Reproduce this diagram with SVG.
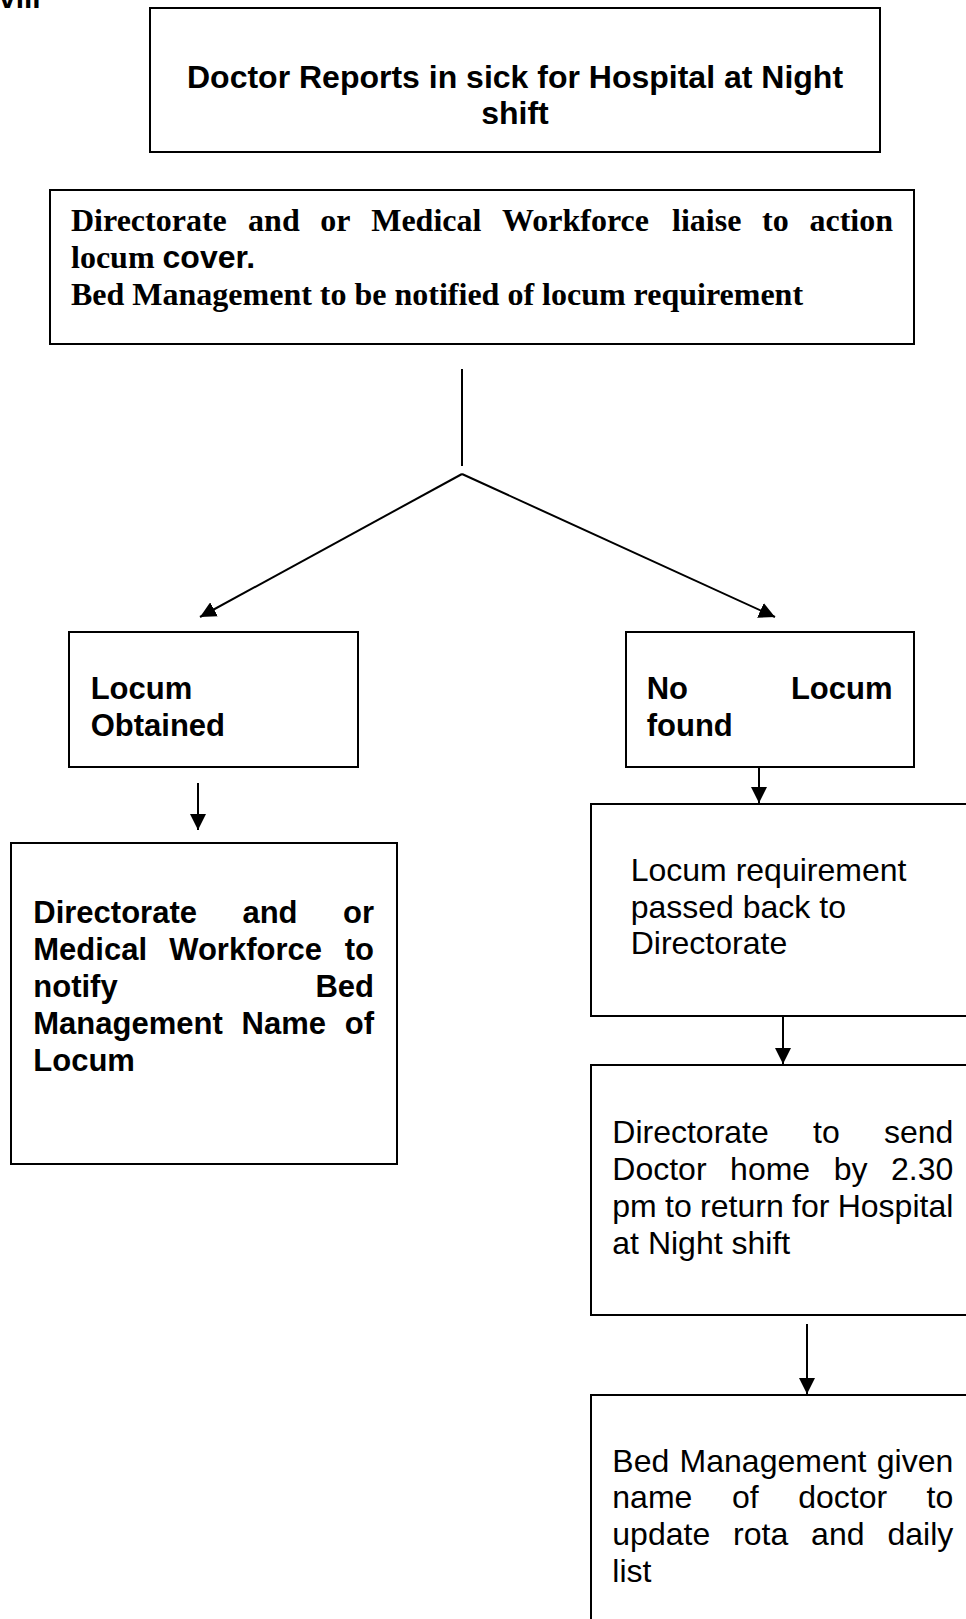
<svg xmlns="http://www.w3.org/2000/svg" width="966" height="1619" viewBox="0 0 966 1619">
<defs>
<style>
.box{fill:#fff;stroke:#000;stroke-width:2}
.ab{font-family:"Liberation Sans",Arial,sans-serif;font-weight:bold;font-size:31px;fill:#000}
.ar{font-family:"Liberation Sans",Arial,sans-serif;font-size:32px;fill:#000}
.tb{font-family:"Liberation Serif","Times New Roman",serif;font-weight:bold;font-size:32px;fill:#000}
.con{stroke:#000;stroke-width:2;fill:none}
.arr{stroke:#000;stroke-width:2;fill:none;marker-end:url(#ah)}
</style>
<marker id="ah" markerUnits="userSpaceOnUse" viewBox="0 0 16 16" refX="16" refY="8" markerWidth="16" markerHeight="16" orient="auto">
<path d="M0,0 L16,8 L0,16 z" fill="#000"/>
</marker>
</defs>
<rect width="966" height="1619" fill="#fff"/>
<text class="ab" x="-1" y="8" style="font-size:30px">viii</text>

<g id="connectors">
<line class="con" x1="462" y1="369" x2="462" y2="466"/>
<line class="arr" x1="462" y1="474" x2="200" y2="617"/>
<line class="arr" x1="462" y1="474" x2="775" y2="617"/>
<line class="arr" x1="198" y1="783" x2="198" y2="830"/>
<line class="arr" x1="759" y1="757" x2="759" y2="803"/>
<line class="arr" x1="783" y1="1016" x2="783" y2="1064"/>
<line class="arr" x1="807" y1="1324" x2="807" y2="1394"/>
</g>

<g id="n1">
<rect class="box" x="150" y="8" width="730" height="144"/>
<text class="ab" text-anchor="middle" style="font-size:32px"><tspan x="515" y="88">Doctor Reports in sick for Hospital at Night</tspan><tspan x="515" y="124">shift</tspan></text>
</g>

<g id="n2">
<rect class="box" x="50" y="190" width="864" height="154"/>
<text class="tb" y="231"><tspan x="71">Directorate</tspan><tspan x="248.1">and</tspan><tspan x="320.3">or</tspan><tspan x="371.2">Medical</tspan><tspan x="502.1">Workforce</tspan><tspan x="672">liaise</tspan><tspan x="762">to</tspan></text>
<text class="tb" x="893" y="231" text-anchor="end">action</text>
<text class="tb" x="71" y="268">locum <tspan style="font-family:'Liberation Sans',Arial,sans-serif">cover.</tspan></text>
<text class="tb" x="71" y="305">Bed Management to be notified of locum requirement</text>
</g>

<g id="n3">
<rect class="box" x="69" y="632" width="289" height="135"/>
<text class="ab"><tspan x="90.7" y="699">Locum</tspan><tspan x="90.7" y="736">Obtained</tspan></text>
</g>

<g id="n4">
<rect class="box" x="626" y="632" width="288" height="135"/>
<text class="ab" x="646.7" y="699">No</text>
<text class="ab" x="892.5" y="699" text-anchor="end">Locum</text>
<text class="ab" x="646.7" y="736">found</text>
</g>

<g id="n5">
<rect class="box" x="11" y="843" width="386" height="321"/>
<text class="ab" y="923"><tspan x="33.3">Directorate</tspan><tspan x="242.4">and</tspan></text>
<text class="ab" x="374" y="923" text-anchor="end">or</text>
<text class="ab" y="960"><tspan x="33.3">Medical</tspan><tspan x="169.2">Workforce</tspan></text>
<text class="ab" x="374" y="960" text-anchor="end">to</text>
<text class="ab" x="33.3" y="997">notify</text>
<text class="ab" x="374" y="997" text-anchor="end">Bed</text>
<text class="ab" y="1034"><tspan x="33.3">Management</tspan><tspan x="241.5">Name</tspan></text>
<text class="ab" x="374" y="1034" text-anchor="end">of</text>
<text class="ab" x="33.3" y="1071">Locum</text>
</g>

<g id="n6">
<rect class="box" x="591" y="804" width="400" height="212"/>
<text class="ar"><tspan x="630.7" y="880.7">Locum requirement</tspan><tspan x="630.7" y="917.5">passed back to</tspan><tspan x="630.7" y="954.3">Directorate</tspan></text>
</g>

<g id="n7">
<rect class="box" x="591" y="1065" width="400" height="250"/>
<text class="ar" y="1143"><tspan x="612.3">Directorate</tspan><tspan x="813">to</tspan></text>
<text class="ar" x="953.3" y="1143" text-anchor="end">send</text>
<text class="ar" y="1180"><tspan x="612.3">Doctor</tspan><tspan x="730.1">home</tspan><tspan x="833.7">by</tspan></text>
<text class="ar" x="953.3" y="1180" text-anchor="end">2.30</text>
<text class="ar" y="1216.5"><tspan x="612.3">pm</tspan><tspan x="665">to</tspan><tspan x="700.1">return</tspan><tspan x="792">for</tspan></text>
<text class="ar" x="953.3" y="1216.5" text-anchor="end">Hospital</text>
<text class="ar" x="612.3" y="1253.5">at Night shift</text>
</g>

<g id="n8">
<rect class="box" x="591" y="1395" width="400" height="260"/>
<text class="ar" y="1471.5"><tspan x="612.3">Bed</tspan><tspan x="679.6">Management</tspan></text>
<text class="ar" x="953.3" y="1471.5" text-anchor="end">given</text>
<text class="ar" y="1508.3"><tspan x="612.3">name</tspan><tspan x="731.9">of</tspan><tspan x="798.2">doctor</tspan></text>
<text class="ar" x="953.3" y="1508.3" text-anchor="end">to</text>
<text class="ar" y="1545.1"><tspan x="612.3">update</tspan><tspan x="733.1">rota</tspan><tspan x="811.1">and</tspan></text>
<text class="ar" x="953.3" y="1545.1" text-anchor="end">daily</text>
<text class="ar" x="612.3" y="1581.9">list</text>
</g>
</svg>
